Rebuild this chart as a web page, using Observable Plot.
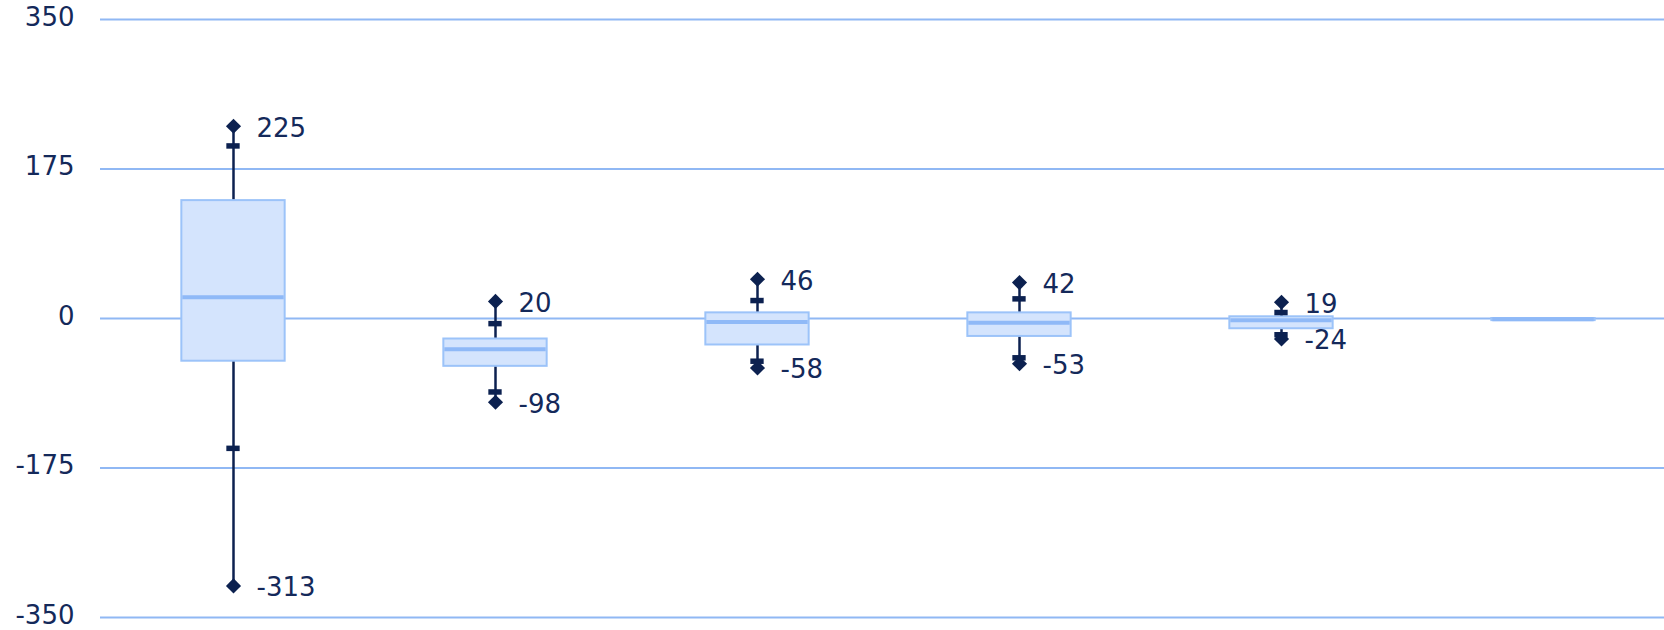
<!DOCTYPE html>
<html>
<head>
<meta charset="utf-8">
<script src="https://cdn.jsdelivr.net/npm/d3@7"></script>
<script src="https://cdn.jsdelivr.net/npm/@observablehq/plot@0.6"></script>
<style>
  html, body { margin: 0; padding: 0; background: #fff; overflow: hidden; }
  #chart { width: 1664px; height: 630px; }
</style>
</head>
<body>
<div id="chart"></div>
<script>
// ---- data ----
const categories = ["1", "2", "3", "4", "5", "6"];
const minValues   = [-313, -98, -58, -53, -24, null];
const lowerCaps   = [-152, -86, -50, -46, -19, null];
const q1Values    = [-50, -56, -31, -21, -12, -2.5];
const medians     = [25, -36, -4, -5, -2, -1];
const q3Values    = [138, -24, 6.6, 6.6, 2, 0];
const upperCaps   = [202, -6, 21, 23, 7, null];
const maxValues   = [225, 20, 46, 42, 19, null];
const minLabels   = ["-313", "-98", "-58", "-53", "-24", null];
const maxLabels   = ["225", "20", "46", "42", "19", null];
const yTicks      = [-350, -175, 0, 175, 350];

// ---- build tables ----
const boxes = categories.map((c, i) => ({
  cat: c, min: minValues[i], lo: lowerCaps[i], q1: q1Values[i], med: medians[i],
  q3: q3Values[i], hi: upperCaps[i], max: maxValues[i]
}));
const whiskers = boxes.filter(d => d.min != null);
const caps = [];
boxes.forEach(d => { if (d.lo != null) caps.push({cat: d.cat, v: d.lo}); if (d.hi != null) caps.push({cat: d.cat, v: d.hi}); });
const extremes = [];
categories.forEach((c, i) => {
  if (maxValues[i] != null) extremes.push({cat: c, v: maxValues[i], label: maxLabels[i]});
  if (minValues[i] != null) extremes.push({cat: c, v: minValues[i], label: minLabels[i]});
});

// ---- layout ----
const W = 1664, H = 630;
const xRange = [100, 1676];
const bw = (xRange[1] - xRange[0]) / categories.length;
const boxInset = (bw - 104) / 2;
const capInset = (bw - 14) / 2;
const navy = "#0c2150";
const textColor = "#14295a";

const chart = Plot.plot({
  width: W,
  height: H,
  marginLeft: 100,
  marginRight: 0,
  marginTop: 19,
  marginBottom: 13,
  style: { fontFamily: "'DejaVu Sans', Verdana, sans-serif", fontSize: "26px", color: textColor, background: "#fff" },
  x: { type: "band", domain: categories, range: xRange, padding: 0, axis: null },
  y: { domain: [-350, 350], axis: null },
  marks: [
    Plot.ruleY(yTicks, { stroke: "#90b8f4", strokeWidth: 2 }),
    Plot.axisY({ ticks: yTicks, tickSize: 0, tickPadding: 26, fontSize: 26, dy: -2, tickFormat: d => String(d) }),
    Plot.ruleX(whiskers, { x: "cat", y1: "min", y2: "max", stroke: navy, strokeWidth: 2.5 }),
    Plot.barY(boxes, { x: "cat", y1: "q1", y2: "q3", fill: "#d4e4fd", stroke: "#9cc3f9", strokeWidth: 2,
      insetLeft: boxInset, insetRight: boxInset }),
    Plot.tickY(boxes, { x: "cat", y: "med", stroke: "#8fb9f7", strokeWidth: 4,
      insetLeft: boxInset + 1, insetRight: boxInset + 1 }),
    Plot.tickY(caps, { x: "cat", y: "v", stroke: navy, strokeWidth: 5.5, insetLeft: capInset, insetRight: capInset }),
    Plot.dot(extremes, { x: "cat", y: "v", symbol: "diamond2", r: 6.8, fill: navy, stroke: "none" }),
    Plot.text(extremes, { x: "cat", y: "v", text: "label", dx: 23, dy: 2, textAnchor: "start",
      fill: textColor, fontSize: 26 })
  ]
});
document.getElementById("chart").appendChild(chart);
</script>
</body>
</html>
